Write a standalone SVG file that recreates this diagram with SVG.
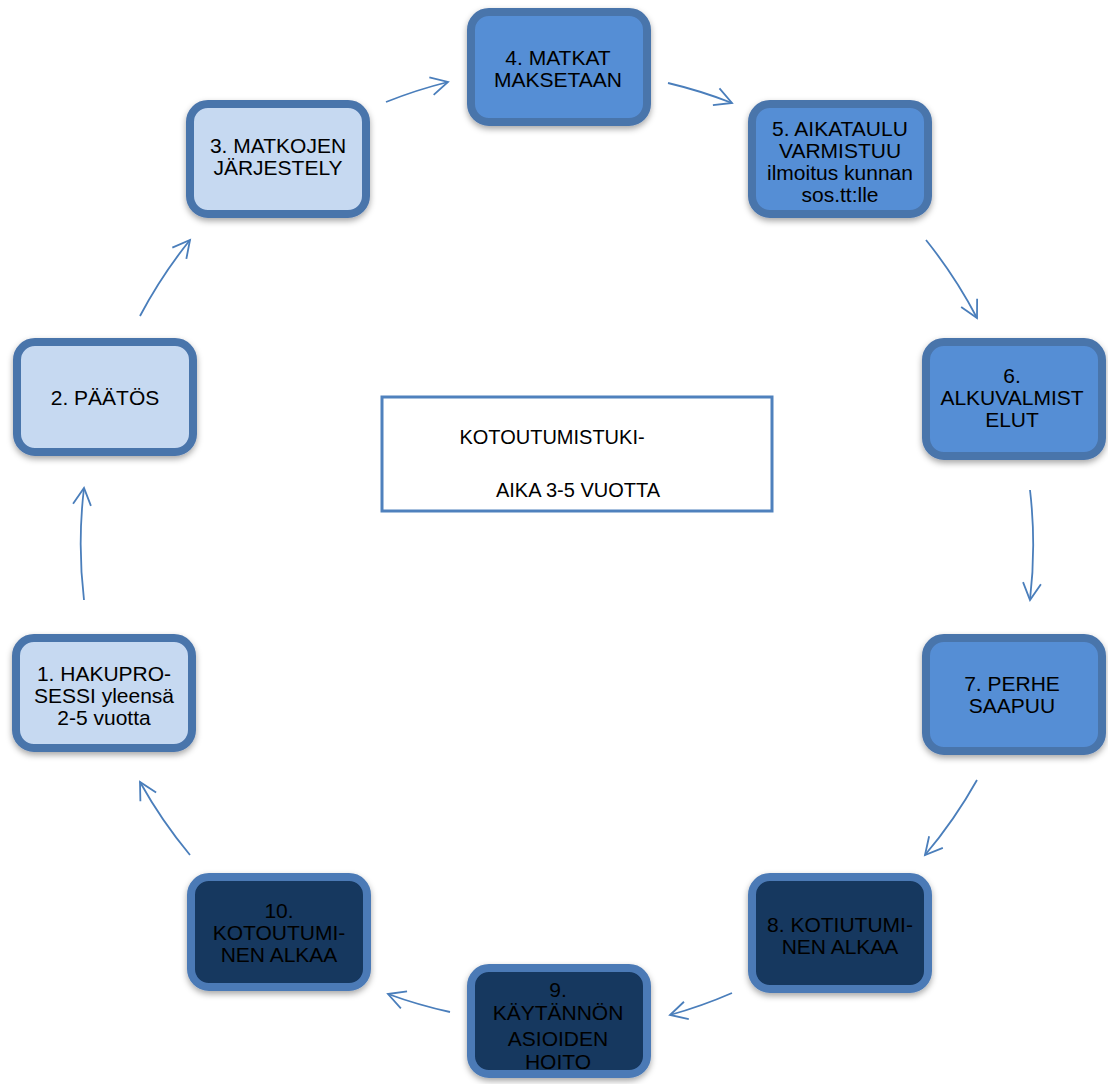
<svg xmlns="http://www.w3.org/2000/svg" width="1108" height="1084" viewBox="0 0 1108 1084">
<style>
.box{stroke-width:8}
.light{fill:#c6d9f1;stroke:#4a74ab}
.mid{fill:#558ed5;stroke:#4a74ab}
.dark{fill:#17375e;stroke:#4b7ab6}
.t{font-family:"Liberation Sans",Arial,sans-serif;font-size:21px;fill:#000;text-anchor:middle}
.c{font-family:"Liberation Sans",Arial,sans-serif;font-size:20px;fill:#000;text-anchor:middle}
.arr{fill:none;stroke:#4a7ebb;stroke-width:1.8;marker-end:url(#ah)}
</style>
<defs>
<filter id="sh" x="-10%" y="-10%" width="125%" height="130%">
<feDropShadow dx="0" dy="3" stdDeviation="3" flood-color="#000" flood-opacity="0.35"/>
</filter>
<marker id="ah" markerUnits="userSpaceOnUse" markerWidth="24" markerHeight="24" viewBox="-20 -12 24 24" refX="0" refY="0" orient="auto">
<path d="M-17,-9 L0,0 L-17,9" fill="none" stroke="#4a7ebb" stroke-width="1.8"/>
</marker>
</defs>
<rect width="1108" height="1084" fill="#fff"/>
<g id="connectors">
<path class="arr" d="M84,600 A474,474 0 0 1 84,488"/>
<path class="arr" d="M140,316 A474,474 0 0 1 190,240"/>
<path class="arr" d="M386,102 A474,474 0 0 1 448,82"/>
<path class="arr" d="M668,83 A474,474 0 0 1 732,103"/>
<path class="arr" d="M926,240 A474,474 0 0 1 977,318"/>
<path class="arr" d="M1030,490 A474,474 0 0 1 1030,600"/>
<path class="arr" d="M977,780 A474,474 0 0 1 925,855"/>
<path class="arr" d="M732,993 A474,474 0 0 1 670,1015"/>
<path class="arr" d="M450,1012 A474,474 0 0 1 388,994"/>
<path class="arr" d="M190,855 A474,474 0 0 1 140,782"/>
</g>
<g id="node1"><rect class="box light" x="16" y="638" width="176" height="110" rx="18" filter="url(#sh)"/>
<text class="t" x="104" y="681">1. HAKUPRO-</text><text class="t" x="104" y="703">SESSI yleensä</text><text class="t" x="104" y="725">2-5 vuotta</text></g>
<g id="node2"><rect class="box light" x="17" y="342" width="176" height="110" rx="18" filter="url(#sh)"/>
<text class="t" x="105" y="405">2. PÄÄTÖS</text></g>
<g id="node3"><rect class="box light" x="190" y="104" width="176" height="110" rx="18" filter="url(#sh)"/>
<text class="t" x="278" y="153">3. MATKOJEN</text><text class="t" x="278" y="175">JÄRJESTELY</text></g>
<g id="node4"><rect class="box mid" x="471" y="12" width="176" height="110" rx="18" filter="url(#sh)"/>
<text class="t" x="558" y="65">4. MATKAT</text><text class="t" x="558" y="87">MAKSETAAN</text></g>
<g id="node5"><rect class="box mid" x="752" y="104" width="176" height="110" rx="18" filter="url(#sh)"/>
<text class="t" x="840" y="136">5. AIKATAULU</text><text class="t" x="840" y="158">VARMISTUU</text><text class="t" x="840" y="180">ilmoitus kunnan</text><text class="t" x="840" y="202">sos.tt:lle</text></g>
<g id="node6"><rect class="box mid" x="926" y="342" width="176" height="114" rx="18" filter="url(#sh)"/>
<text class="t" x="1012" y="383">6.</text><text class="t" x="1012" y="405">ALKUVALMIST</text><text class="t" x="1012" y="427">ELUT</text></g>
<g id="node7"><rect class="box mid" x="926" y="638" width="176" height="113" rx="18" filter="url(#sh)"/>
<text class="t" x="1012" y="691">7. PERHE</text><text class="t" x="1012" y="713">SAAPUU</text></g>
<g id="node8"><rect class="box dark" x="752" y="877" width="176" height="112" rx="18" filter="url(#sh)"/>
<text class="t" x="840" y="932">8. KOTIUTUMI-</text><text class="t" x="840" y="954">NEN ALKAA</text></g>
<g id="node9"><rect class="box dark" x="471" y="968" width="176" height="106" rx="18" filter="url(#sh)"/>
<text class="t" x="558" y="997">9.</text><text class="t" x="558" y="1020">KÄYTÄNNÖN</text><text class="t" x="558" y="1046">ASIOIDEN</text><text class="t" x="558" y="1069">HOITO</text></g>
<g id="node10"><rect class="box dark" x="191" y="877" width="176" height="110" rx="18" filter="url(#sh)"/>
<text class="t" x="279" y="918">10.</text><text class="t" x="279" y="940">KOTOUTUMI-</text><text class="t" x="279" y="962">NEN ALKAA</text></g>
<g id="center"><rect x="382" y="397" width="390" height="114" fill="#fff" stroke="#4f81bd" stroke-width="3"/>
<text class="c" x="552" y="444">KOTOUTUMISTUKI-</text><text class="c" x="578" y="497">AIKA 3-5 VUOTTA</text></g>
</svg>
